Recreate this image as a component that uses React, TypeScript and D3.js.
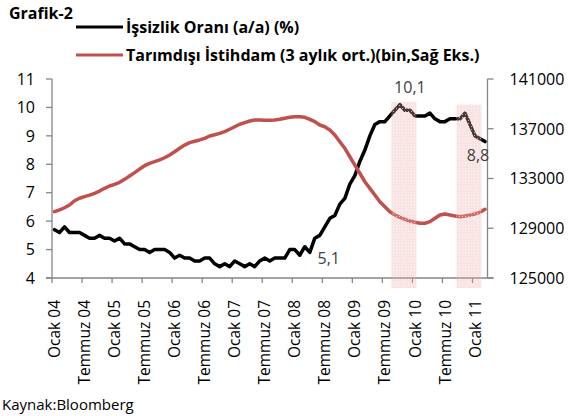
import React from 'react';
import * as d3 from 'd3';

// monthly categories Jan 2004 .. Mar 2011
const years = [2004, 2005, 2006, 2007, 2008, 2009, 2010, 2011];
const categories: string[] = [];
years.forEach(y => {
  for (let m = 1; m <= 12; m++) {
    if (y === 2011 && m > 3) break;
    categories.push(`${y}-${String(m).padStart(2, '0')}`);
  }
});

const tickLabels = [
  'Ocak 04', 'Temmuz 04', 'Ocak 05', 'Temmuz 05', 'Ocak 06', 'Temmuz 06',
  'Ocak 07', 'Temmuz 07', 'Ocak 08', 'Temmuz 08', 'Ocak 09', 'Temmuz 09',
  'Ocak 10', 'Temmuz 10', 'Ocak 11'
];

// İşsizlik Oranı (%)
const unemployment = [
  5.7, 5.6, 5.8, 5.6, 5.6, 5.6, 5.5, 5.4, 5.4, 5.5, 5.4, 5.4,
  5.3, 5.4, 5.2, 5.2, 5.1, 5.0, 5.0, 4.9, 5.0, 5.0, 5.0, 4.9,
  4.7, 4.8, 4.7, 4.7, 4.6, 4.6, 4.7, 4.7, 4.5, 4.4, 4.5, 4.4,
  4.6, 4.5, 4.4, 4.5, 4.4, 4.6, 4.7, 4.6, 4.7, 4.7, 4.7, 5.0,
  5.0, 4.8, 5.1, 4.9, 5.4, 5.5, 5.8, 6.1, 6.2, 6.6, 6.8, 7.3,
  7.6, 8.1, 8.5, 9.0, 9.4, 9.5, 9.5, 9.7, 9.9, 10.1, 9.9, 9.9,
  9.7, 9.7, 9.7, 9.8, 9.6, 9.5, 9.5, 9.6, 9.6, 9.6, 9.8, 9.4,
  9.0, 8.9, 8.8
];

// Tarımdışı İstihdam, 3 aylık ort. (bin)
const payrolls = [
  130330, 130470, 130650, 130870, 131210, 131410, 131540, 131670, 131810, 131990, 132210, 132400,
  132530, 132690, 132930, 133200, 133470, 133760, 134030, 134220, 134350, 134490, 134670, 134890,
  135150, 135430, 135690, 135880, 135990, 136100, 136230, 136420, 136520, 136630, 136770, 136960,
  137160, 137360, 137490, 137620, 137700, 137700, 137680, 137680, 137700, 137760, 137840, 137920,
  137970, 137970, 137920, 137760, 137570, 137300, 137160, 136900, 136500, 135960, 135430, 134750,
  134080, 133420, 132740, 132210, 131670, 131130, 130730, 130330, 130070, 129880, 129720, 129580,
  129480, 129400, 129400, 129530, 129800, 130070, 130150, 130070, 129990, 129930, 129990, 130070,
  130150, 130280, 130520
];

const leftTicks = [4, 5, 6, 7, 8, 9, 10, 11];
const rightTicks = [125000, 129000, 133000, 137000, 141000];

// shaded periods (first and last month) and their top on the left scale
const shadeFrom = ['2009-09', '2010-10'];
const shadeTo = ['2010-01', '2011-02'];
const shadeTop = [10.2, 10.1];

// labelled points
const noteMonths = ['2008-03', '2009-10', '2011-03'];
const noteText = ['5,1', '10,1', '8,8'];

const FONT = "'Open Sans', sans-serif";

export default function App() {
  const width = 568, height = 416;
  const plot = { left: 52, right: 487.5, top: 79, bottom: 278 };

  const x = d3.scaleBand<string>().domain(categories).range([plot.left, plot.right]);
  const cx = (c: string) => (x(c) as number) + x.bandwidth() / 2;
  const yL = d3.scaleLinear().domain([4, 11]).range([plot.bottom, plot.top]);
  const yR = d3.scaleLinear().domain([125000, 141000]).range([plot.bottom, plot.top]);

  const lineL = d3.line<number>().x((_, i) => cx(categories[i])).y(d => yL(d));
  const lineR = d3.line<number>().x((_, i) => cx(categories[i])).y(d => yR(d));

  const axisColor = '#868686';
  const tickCats = categories.filter((_, i) => i % 6 === 0);

  const noteOffsets = [[24, 17], [10, -12], [-7, 19]];

  return (
    <svg width={width} height={height} style={{ position: 'absolute', left: 0, top: 0, background: '#fff' }}
      fontFamily={FONT}>
      <defs>
        <pattern id="shade" width="3" height="3" patternUnits="userSpaceOnUse">
          <rect width="3" height="3" fill="rgba(236,170,170,0.32)" />
          <rect width="1" height="1" fill="rgba(255,255,255,0.6)" />
        </pattern>
      </defs>

      {/* title + legend */}
      <text x={9} y={19} fontSize={16} fontWeight="bold" fill="#000">Grafik-2</text>
      <line x1={76} x2={123} y1={27} y2={27} stroke="#000" strokeWidth={3} />
      <text x={126} y={33} fontSize={16} fontWeight="bold" fill="#000">İşsizlik Oranı (a/a) (%)</text>
      <line x1={76} x2={123} y1={55} y2={55} stroke="#C0504D" strokeWidth={3} />
      <text x={126} y={61} fontSize={16} fontWeight="bold" fill="#000">Tarımdışı İstihdam (3 aylık ort.)(bin,Sağ Eks.)</text>

      {/* axes */}
      <line x1={plot.left} x2={plot.left} y1={plot.top} y2={plot.bottom} stroke={axisColor} strokeWidth={1.3} />
      <line x1={plot.right} x2={plot.right} y1={plot.top} y2={plot.bottom} stroke={axisColor} strokeWidth={1.3} />
      <line x1={plot.left - 6} x2={plot.right + 6} y1={plot.bottom} y2={plot.bottom} stroke={axisColor} strokeWidth={1.3} />

      {leftTicks.map(t => (
        <g key={'l' + t}>
          <line x1={plot.left - 6} x2={plot.left} y1={yL(t)} y2={yL(t)} stroke={axisColor} strokeWidth={1.3} />
          <text x={plot.left - 17} y={yL(t)} dy="0.36em" textAnchor="end" fontSize={16} fill="#000">{t}</text>
        </g>
      ))}
      {rightTicks.map(t => (
        <g key={'r' + t}>
          <line x1={plot.right} x2={plot.right + 6} y1={yR(t)} y2={yR(t)} stroke={axisColor} strokeWidth={1.3} />
          <text x={plot.right + 22} y={yR(t)} dy="0.36em" fontSize={16} fill="#000">{t}</text>
        </g>
      ))}
      {tickCats.map((c, i) => (
        <g key={c}>
          <line x1={x(c)} x2={x(c)} y1={plot.bottom} y2={plot.bottom + 5} stroke={axisColor} strokeWidth={1.3} />
          <text transform={`translate(${cx(c)},${plot.bottom + 22}) rotate(-90)`} dy="0.36em"
            textAnchor="end" fontSize={15.5} fill="#000">{tickLabels[i]}</text>
        </g>
      ))}

      {/* series */}
      <path d={lineL(unemployment) || ''} fill="none" stroke="#000" strokeWidth={3.5}
        strokeLinejoin="round" strokeLinecap="round" />
      <path d={lineR(payrolls) || ''} fill="none" stroke="#C0504D" strokeWidth={3.5}
        strokeLinejoin="round" strokeLinecap="round" />

      {/* shaded periods */}
      {shadeFrom.map((f, i) => (
        <rect key={f} x={(x(f) as number) - 1} y={yL(shadeTop[i])}
          width={(x(shadeTo[i]) as number) + x.bandwidth() - (x(f) as number)}
          height={plot.bottom + 10 - yL(shadeTop[i])} fill="url(#shade)" />
      ))}

      {/* point labels */}
      {noteMonths.map((m, i) => {
        const v = unemployment[categories.indexOf(m)];
        return (
          <text key={m} x={cx(m) + noteOffsets[i][0]} y={yL(v) + noteOffsets[i][1]} textAnchor="middle"
            fontSize={16} fill="#404040">{noteText[i]}</text>
        );
      })}

      <text x={2} y={410} fontSize={15} fill="#000">Kaynak:Bloomberg</text>
    </svg>
  );
}
